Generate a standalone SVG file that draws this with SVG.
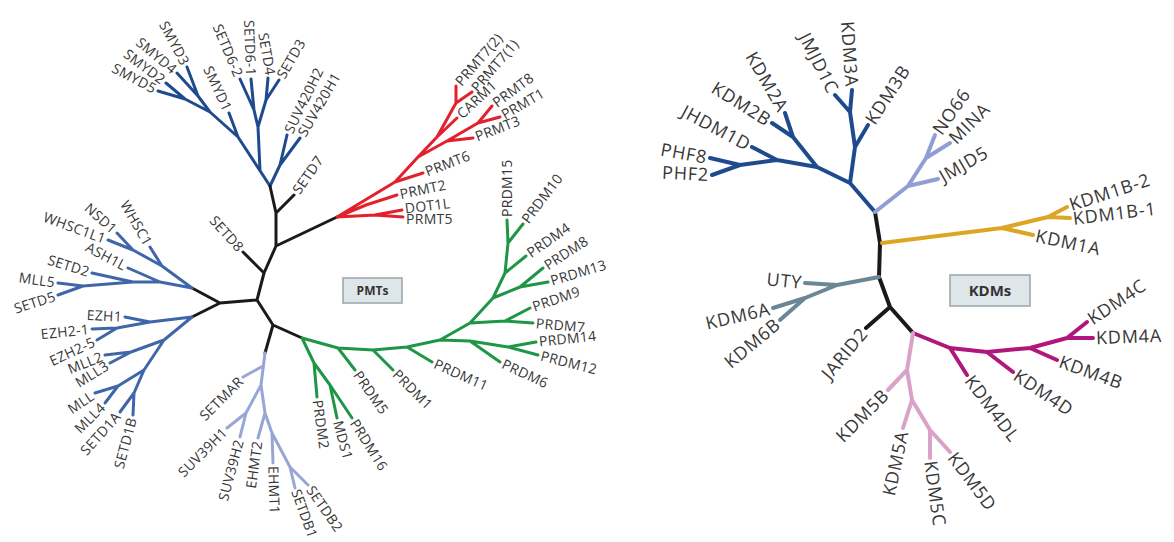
<svg xmlns="http://www.w3.org/2000/svg" width="1174" height="542" viewBox="0 0 1174 542">
<style>
.e{fill:none;stroke-width:3;stroke-linecap:round;stroke-linejoin:round}
.ek{stroke-width:4}
.nv{stroke:#1f4b8e}.mb{stroke:#4066aa}.lv{stroke:#98a6d6}.rd{stroke:#e3202b}.gr{stroke:#1f9646}.bk{stroke:#1a1a1a}
.kl{stroke:#8f9fd4}.or{stroke:#dca523}.sl{stroke:#6b8797}.mg{stroke:#b0177c}.pk{stroke:#d9a3c9}
text{font-family:"Open Sans","DejaVu Sans",sans-serif;fill:#383838}
.p{font-size:14px;letter-spacing:0.3px}
.k{font-size:18px;letter-spacing:0.8px}
.s{text-anchor:start}.en{text-anchor:end}
.box{fill:#dfe6ea;stroke:#9aa4aa;stroke-width:1.5}
.bt{font-weight:bold;text-anchor:middle;fill:#333}
</style>
<rect width="1174" height="542" fill="#fff"/>
<g id="connectors">
<!-- PMT navy -->
<path class="e nv" d="M270,186 L238,137 L229,113 M238,137 L210,112 L185,99 L158,91 M185,99 L166,83 M210,112 L198,96 L177,73 M198,96 L187,67 M260,170 L258,127 L254,110 L240,79 M254,110 L251,79 M258,127 L266,100 L268,78 M266,100 L279,80 M270,186 L280,165 L287,135 M280,165 L300,138"/>
<!-- PMT black -->
<path class="e bk" d="M192,288 L220,303 L192,317 M220,303 L257,300 L264,273 L276,246 L276,213 L270,186 M264,273 L243,252 M276,246 L337,217 M276,213 L294,195 M257,300 L273,325 L302,338 M273,325 L265,353"/>
<!-- PMT medium blue -->
<path class="e mb" d="M192,288 L162,266 L150,247 M162,266 L133,250 L117,233 M133,250 L108,240 M192,288 L160,282 L128,268 M160,282 L133,282 L92,273 M133,282 L83,286 L58,283 M83,286 L58,295"/>
<path class="e mb" d="M192,317 L150,322 L125,317 M150,322 L117,328 L92,329 M117,328 L97,340 M192,317 L164,340 L131,352 L105,355 M131,352 L110,363 M164,340 L144,370 L118,386 L95,393 M118,386 L105,403 M144,370 L134,393 L120,412 M134,393 L133,415"/>
<!-- PMT lavender -->
<path class="e lv" d="M265,353 L261,385 L265,413 L272,433 L290,467 L295,488 M290,467 L308,485 M263,366 L243,377 M261,385 L246,413 L227,428 M246,413 L240,437 M265,413 L258,438 M272,433 L273,463"/>
<!-- PMT red -->
<path class="e rd" d="M337,217 L375,215 L403,217 M375,215 L402,210 M337,217 L366,205 L397,195 M337,217 L395,182 L423,173 M395,182 L418,157 L447,141 L473,138 M447,141 L478,123 L500,117 M478,123 L492,106 M418,157 L437,137 L457,118 M437,137 L456,103 L456,86 M456,103 L472,92"/>
<!-- PMT green -->
<path class="e gr" d="M302,338 L338,348 L373,350 L407,347 L440,340 L470,323 L493,298 L505,273 L508,243 L507,220 M508,243 L523,224 M440,340 L470,341 L508,347 L536,342 M508,347 L538,355 M470,341 L500,362 M302,338 L314,363 L317,397 M314,363 L330,385 L337,418 M330,385 L352,418 M338,348 L355,370 M373,350 L393,370 M407,347 L432,362 M470,323 L505,321 L533,323 M505,321 L530,308 M493,298 L520,287 L548,282 M520,287 L543,268 M505,273 L526,256"/>
<!-- KDM black -->
<path class="e ek bk" d="M875,212 L880,243 L879,277 L890,307 L913,333 M890,307 L866,328"/>
<!-- KDM navy -->
<path class="e ek nv" d="M875,212 L850,183 L817,167 L777,160 L740,165 L710,158 M740,165 L712,175 M777,160 L752,147 M817,167 L793,137 L772,123 M793,137 L785,113 M850,183 L855,147 L868,125 M855,147 L850,112 L835,95 M850,112 L852,90"/>
<!-- KDM lavender -->
<path class="e ek kl" d="M875,212 L908,186 L938,179 M908,186 L926,158 L935,135 M926,158 L950,143"/>
<!-- KDM orange -->
<path class="e ek or" d="M882,243 L1002,228 L1033,235 M1002,228 L1048,217 L1070,218 M1048,217 L1067,207"/>
<!-- KDM slate -->
<path class="e ek sl" d="M879,277 L837,285 L805,283 M837,285 L805,298 L773,308 M805,298 L780,320"/>
<!-- KDM magenta -->
<path class="e ek mg" d="M913,333 L950,348 L987,352 L1030,348 L1067,338 L1087,322 M1067,338 L1093,338 M1030,348 L1057,360 M987,352 L1013,372 M950,348 L967,375"/>
<!-- KDM pink -->
<path class="e ek pk" d="M913,333 L907,370 L912,400 L930,430 L930,458 M930,430 L950,452 M907,370 L888,390 M912,400 L903,428"/>
</g>
<g id="pmts-box"><rect class="box" x="343" y="278" width="59" height="25"/><text class="bt" x="372.5" y="295" font-size="12">PMTs</text></g>
<g id="kdms-box"><rect class="box" x="950" y="275" width="80" height="31"/><text class="bt" x="990" y="296" font-size="15">KDMs</text></g>
<g id="n-SMYD5"><text class="p en" x="-3" dy="0.35em" transform="translate(158,91) rotate(28)">SMYD5</text></g>
<g id="n-SMYD2"><text class="p en" x="-3" dy="0.35em" transform="translate(166,83) rotate(37)">SMYD2</text></g>
<g id="n-SMYD4"><text class="p en" x="-3" dy="0.35em" transform="translate(177,73) rotate(40)">SMYD4</text></g>
<g id="n-SMYD3"><text class="p en" x="-3" dy="0.35em" transform="translate(187,67) rotate(62)">SMYD3</text></g>
<g id="n-SMYD1"><text class="p en" x="-3" dy="0.35em" transform="translate(229,113) rotate(65)">SMYD1</text></g>
<g id="n-SETD6-2"><text class="p en" x="-3" dy="0.35em" transform="translate(240,79) rotate(67)">SETD6-2</text></g>
<g id="n-SETD6-1"><text class="p en" x="-3" dy="0.35em" transform="translate(251,79) rotate(88)">SETD6-1</text></g>
<g id="n-SETD4"><text class="p en" x="-3" dy="0.35em" transform="translate(271,78) rotate(80)">SETD4</text></g>
<g id="n-SETD3"><text class="p s" x="3" dy="0.35em" transform="translate(279,80) rotate(-60)">SETD3</text></g>
<g id="n-SUV420H2"><text class="p s" x="3" dy="0.35em" transform="translate(287,135) rotate(-64)">SUV420H2</text></g>
<g id="n-SUV420H1"><text class="p s" x="3" dy="0.35em" transform="translate(300,138) rotate(-60)">SUV420H1</text></g>
<g id="n-SETD8"><text class="p en" x="-3" dy="0.35em" transform="translate(243,252) rotate(48)">SETD8</text></g>
<g id="n-SETD7"><text class="p s" x="3" dy="0.35em" transform="translate(294,195) rotate(-55)">SETD7</text></g>
<g id="n-WHSC1"><text class="p en" x="-3" dy="0.35em" transform="translate(150,247) rotate(60)">WHSC1</text></g>
<g id="n-NSD1"><text class="p en" x="-3" dy="0.35em" transform="translate(117,233) rotate(42)">NSD1</text></g>
<g id="n-WHSC1L1"><text class="p en" x="-3" dy="0.35em" transform="translate(108,240) rotate(20)">WHSC1L1</text></g>
<g id="n-ASH1L"><text class="p en" x="-3" dy="0.35em" transform="translate(128,268) rotate(28)">ASH1L</text></g>
<g id="n-SETD2"><text class="p en" x="-3" dy="0.35em" transform="translate(92,273) rotate(17)">SETD2</text></g>
<g id="n-MLL5"><text class="p en" x="-3" dy="0.35em" transform="translate(58,283) rotate(8)">MLL5</text></g>
<g id="n-SETD5"><text class="p en" x="-3" dy="0.35em" transform="translate(58,295) rotate(-18)">SETD5</text></g>
<g id="n-EZH1"><text class="p en" x="-3" dy="0.35em" transform="translate(125,317) rotate(3)">EZH1</text></g>
<g id="n-EZH2-1"><text class="p en" x="-3" dy="0.35em" transform="translate(92,329) rotate(-6)">EZH2-1</text></g>
<g id="n-EZH2-5"><text class="p en" x="-3" dy="0.35em" transform="translate(97,340) rotate(-25)">EZH2-5</text></g>
<g id="n-MLL2"><text class="p en" x="-3" dy="0.35em" transform="translate(105,355) rotate(-22)">MLL2</text></g>
<g id="n-MLL3"><text class="p en" x="-3" dy="0.35em" transform="translate(110,363) rotate(-32)">MLL3</text></g>
<g id="n-MLL"><text class="p en" x="-3" dy="0.35em" transform="translate(95,393) rotate(-34)">MLL</text></g>
<g id="n-MLL4"><text class="p en" x="-3" dy="0.35em" transform="translate(105,403) rotate(-45)">MLL4</text></g>
<g id="n-SETD1A"><text class="p en" x="-3" dy="0.35em" transform="translate(120,412) rotate(-48)">SETD1A</text></g>
<g id="n-SETD1B"><text class="p en" x="-3" dy="0.35em" transform="translate(133,415) rotate(-75)">SETD1B</text></g>
<g id="n-SETMAR"><text class="p en" x="-3" dy="0.35em" transform="translate(243,377) rotate(-45)">SETMAR</text></g>
<g id="n-SUV39H1"><text class="p en" x="-3" dy="0.35em" transform="translate(227,428) rotate(-45)">SUV39H1</text></g>
<g id="n-SUV39H2"><text class="p en" x="-3" dy="0.35em" transform="translate(240,437) rotate(-75)">SUV39H2</text></g>
<g id="n-EHMT2"><text class="p en" x="-3" dy="0.35em" transform="translate(258,438) rotate(-82)">EHMT2</text></g>
<g id="n-EHMT1"><text class="p s" x="3" dy="0.35em" transform="translate(273,463) rotate(88)">EHMT1</text></g>
<g id="n-SETDB1"><text class="p s" x="2" dy="0.35em" style="letter-spacing:0" transform="translate(295,488) rotate(70)">SETDB1</text></g>
<g id="n-SETDB2"><text class="p s" x="3" dy="0.35em" transform="translate(308,485) rotate(55)">SETDB2</text></g>
<g id="n-PRMT7-2"><text class="p s" x="3" dy="0.35em" transform="translate(456,86) rotate(-49)">PRMT7(2)</text></g>
<g id="n-PRMT7-1"><text class="p s" x="3" dy="0.35em" transform="translate(472,92) rotate(-49)">PRMT7(1)</text></g>
<g id="n-CARM1"><text class="p s" x="3" dy="0.35em" transform="translate(457,118) rotate(-43)">CARM1</text></g>
<g id="n-PRMT8"><text class="p s" x="3" dy="0.35em" transform="translate(492,106) rotate(-37)">PRMT8</text></g>
<g id="n-PRMT1"><text class="p s" x="3" dy="0.35em" transform="translate(500,117) rotate(-30)">PRMT1</text></g>
<g id="n-PRMT3"><text class="p s" x="3" dy="0.35em" transform="translate(473,138) rotate(-21)">PRMT3</text></g>
<g id="n-PRMT6"><text class="p s" x="3" dy="0.35em" transform="translate(423,173) rotate(-21)">PRMT6</text></g>
<g id="n-PRMT2"><text class="p s" x="3" dy="0.35em" transform="translate(397,195) rotate(-12)">PRMT2</text></g>
<g id="n-DOT1L"><text class="p s" x="3" dy="0.35em" transform="translate(402,209) rotate(-7)">DOT1L</text></g>
<g id="n-PRMT5"><text class="p s" x="3" dy="0.35em" transform="translate(403,219) rotate(0)">PRMT5</text></g>
<g id="n-PRDM15"><text class="p s" x="3" dy="0.35em" transform="translate(507,220) rotate(-90)">PRDM15</text></g>
<g id="n-PRDM10"><text class="p s" x="3" dy="0.35em" transform="translate(523,224) rotate(-53)">PRDM10</text></g>
<g id="n-PRDM4"><text class="p s" x="3" dy="0.35em" transform="translate(526,256) rotate(-35)">PRDM4</text></g>
<g id="n-PRDM8"><text class="p s" x="3" dy="0.35em" transform="translate(543,268) rotate(-33)">PRDM8</text></g>
<g id="n-PRDM13"><text class="p s" x="3" dy="0.35em" transform="translate(548,282) rotate(-17)">PRDM13</text></g>
<g id="n-PRDM9"><text class="p s" x="3" dy="0.35em" transform="translate(530,308) rotate(-19)">PRDM9</text></g>
<g id="n-PRDM7"><text class="p s" x="3" dy="0.35em" transform="translate(533,323) rotate(5)">PRDM7</text></g>
<g id="n-PRDM14"><text class="p s" x="3" dy="0.35em" transform="translate(536,342) rotate(-6)">PRDM14</text></g>
<g id="n-PRDM12"><text class="p s" x="3" dy="0.35em" transform="translate(538,355) rotate(14)">PRDM12</text></g>
<g id="n-PRDM6"><text class="p s" x="3" dy="0.35em" transform="translate(500,362) rotate(25)">PRDM6</text></g>
<g id="n-PRDM11"><text class="p s" x="3" dy="0.35em" transform="translate(432,362) rotate(24)">PRDM11</text></g>
<g id="n-PRDM1"><text class="p s" x="3" dy="0.35em" transform="translate(393,370) rotate(45)">PRDM1</text></g>
<g id="n-PRDM5"><text class="p s" x="3" dy="0.35em" transform="translate(355,370) rotate(55)">PRDM5</text></g>
<g id="n-PRDM16"><text class="p s" x="3" dy="0.35em" transform="translate(352,418) rotate(58)">PRDM16</text></g>
<g id="n-MDS1"><text class="p s" x="3" dy="0.35em" transform="translate(337,418) rotate(75)">MDS1</text></g>
<g id="n-PRDM2"><text class="p s" x="3" dy="0.35em" transform="translate(317,397) rotate(82)">PRDM2</text></g>
<g id="n-PHF8"><text class="k en" x="-3" dy="0.35em" transform="translate(710,158) rotate(10)">PHF8</text></g>
<g id="n-PHF2"><text class="k en" x="-3" dy="0.35em" transform="translate(712,175) rotate(3)">PHF2</text></g>
<g id="n-JHDM1D"><text class="k en" x="-3" dy="0.35em" transform="translate(752,147) rotate(28)">JHDM1D</text></g>
<g id="n-KDM2B"><text class="k en" x="-3" dy="0.35em" transform="translate(772,123) rotate(32)">KDM2B</text></g>
<g id="n-KDM2A"><text class="k en" x="-3" dy="0.35em" transform="translate(785,113) rotate(60)">KDM2A</text></g>
<g id="n-JMJD1C"><text class="k en" x="-3" dy="0.35em" transform="translate(835,95) rotate(63)">JMJD1C</text></g>
<g id="n-KDM3A"><text class="k en" x="-3" dy="0.35em" transform="translate(852,90) rotate(86)">KDM3A</text></g>
<g id="n-KDM3B"><text class="k s" x="3" dy="0.35em" transform="translate(868,125) rotate(-57)">KDM3B</text></g>
<g id="n-NO66"><text class="k s" x="3" dy="0.35em" transform="translate(935,135) rotate(-55)">NO66</text></g>
<g id="n-MINA"><text class="k s" x="3" dy="0.35em" transform="translate(950,143) rotate(-45)">MINA</text></g>
<g id="n-JMJD5"><text class="k s" x="3" dy="0.35em" transform="translate(938,179) rotate(-30)">JMJD5</text></g>
<g id="n-KDM1B-2"><text class="k s" x="3" dy="0.35em" transform="translate(1067,206) rotate(-18)">KDM1B-2</text></g>
<g id="n-KDM1B-1"><text class="k s" x="3" dy="0.35em" transform="translate(1070,219) rotate(-7)">KDM1B-1</text></g>
<g id="n-KDM1A"><text class="k s" x="3" dy="0.35em" transform="translate(1033,235) rotate(12)">KDM1A</text></g>
<g id="n-UTY"><text class="k en" x="-3" dy="0.35em" transform="translate(805,283) rotate(6)">UTY</text></g>
<g id="n-KDM6A"><text class="k en" x="-3" dy="0.35em" transform="translate(773,308) rotate(-13)">KDM6A</text></g>
<g id="n-KDM6B"><text class="k en" x="-3" dy="0.35em" transform="translate(780,320) rotate(-40)">KDM6B</text></g>
<g id="n-JARID2"><text class="k en" x="-3" dy="0.35em" transform="translate(866,328) rotate(-50)">JARID2</text></g>
<g id="n-KDM5B"><text class="k en" x="-3" dy="0.35em" transform="translate(888,390) rotate(-45)">KDM5B</text></g>
<g id="n-KDM5A"><text class="k en" x="-3" dy="0.35em" transform="translate(903,428) rotate(-78)">KDM5A</text></g>
<g id="n-KDM5C"><text class="k s" x="3" dy="0.35em" transform="translate(930,458) rotate(82)">KDM5C</text></g>
<g id="n-KDM5D"><text class="k s" x="3" dy="0.35em" transform="translate(950,452) rotate(53)">KDM5D</text></g>
<g id="n-KDM4DL"><text class="k s" x="3" dy="0.35em" transform="translate(967,375) rotate(53)">KDM4DL</text></g>
<g id="n-KDM4D"><text class="k s" x="3" dy="0.35em" transform="translate(1013,372) rotate(34)">KDM4D</text></g>
<g id="n-KDM4B"><text class="k s" x="3" dy="0.35em" transform="translate(1057,360) rotate(20)">KDM4B</text></g>
<g id="n-KDM4A"><text class="k s" x="3" dy="0.35em" transform="translate(1093,338) rotate(-2)">KDM4A</text></g>
<g id="n-KDM4C"><text class="k s" x="3" dy="0.35em" transform="translate(1087,322) rotate(-34)">KDM4C</text></g>
</svg>
